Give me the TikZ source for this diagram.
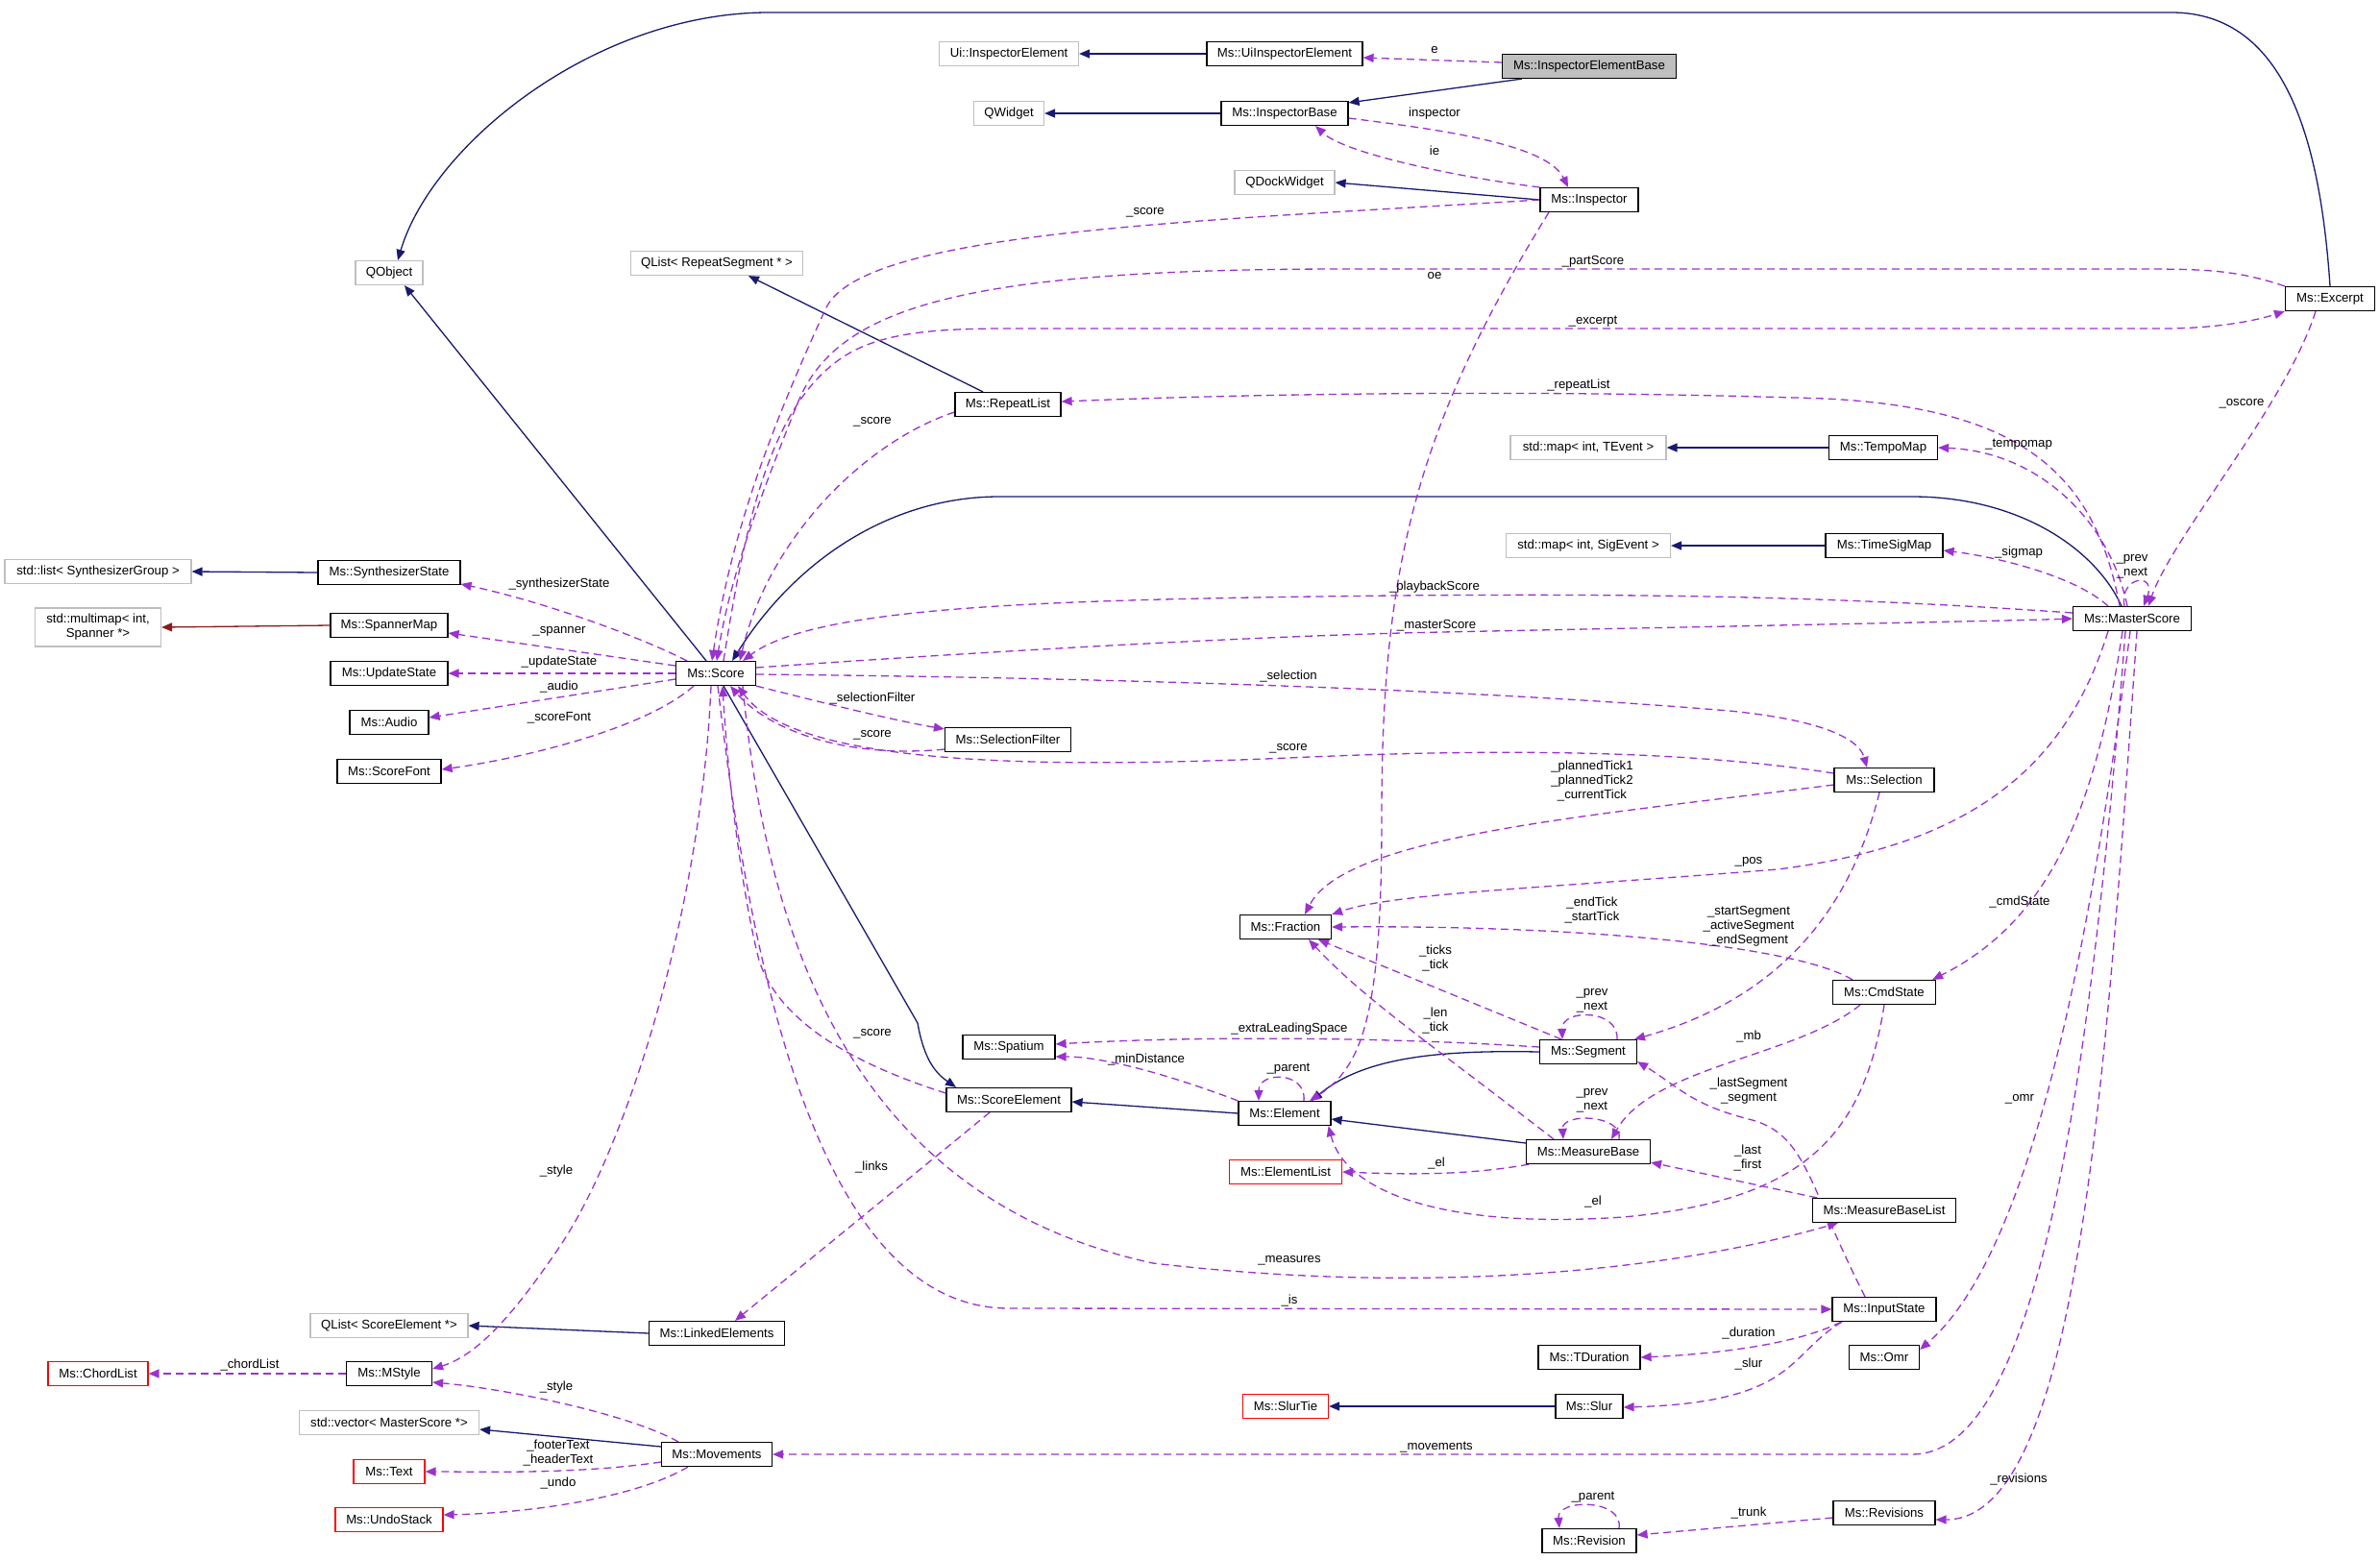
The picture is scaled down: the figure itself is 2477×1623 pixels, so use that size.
\documentclass[tikz,border=0pt]{standalone}
\usepackage{fontspec}
\setmainfont{Liberation Sans}
\usetikzlibrary{arrows.meta}
\definecolor{navy}{HTML}{191970}
\definecolor{usec}{HTML}{9A32CD}
\definecolor{tmplc}{HTML}{8B1A1A}
\definecolor{grayb}{HTML}{BFBFBF}
\pgfdeclarelayer{bg}
\pgfsetlayers{bg,main}
\begin{document}
\begin{tikzpicture}[x=1pt,y=-1pt,
  cls/.style={draw=black, line width=1.2pt, fill=white, minimum height=25pt, inner sep=0pt, font=\fontsize{13.2}{15}\selectfont, text=black},
  ext/.style={cls, draw=grayb},
  redc/.style={cls, draw=red},
  lbl/.style={font=\fontsize{13.2}{15}\selectfont, inner sep=0pt, align=center, text=black},
  inh/.style={draw=navy, line width=1.3pt, -{Triangle[length=11pt,width=9pt]}},
  tmpl/.style={draw=tmplc, line width=1.3pt, -{Triangle[length=11pt,width=9pt]}},
  usage/.style={draw=usec, line width=1.3pt, dash pattern=on 8pt off 5pt, -{Triangle[length=11pt,width=9pt]}}
]
\useasboundingbox (0,0) rectangle (2477,1623);

% nodes
\node[cls, fill=grayb, minimum width=181pt] (ieb) at (1654,69) {Ms::InspectorElementBase};
\node[cls, minimum width=162pt] (uie) at (1337,56) {Ms::UiInspectorElement};
\node[ext, minimum width=145pt] (uiie) at (1050,56) {Ui::InspectorElement};
\node[cls, minimum width=132pt] (ibase) at (1337,118) {Ms::InspectorBase};
\node[ext, minimum width=73pt] (qwidget) at (1050,118) {QWidget};
\node[cls, minimum width=102pt] (insp) at (1654,208) {Ms::Inspector};
\node[ext, minimum width=104pt] (qdock) at (1337,190) {QDockWidget};
\node[cls, minimum width=93pt] (excerpt) at (2425,311) {Ms::Excerpt};
\node[ext, minimum width=70pt] (qobject) at (405,284) {QObject};
\node[ext, minimum width=179pt] (qlistrs) at (746,274) {QList< RepeatSegment * >};
\node[cls, minimum width=110pt] (repeat) at (1049,421) {Ms::RepeatList};
\node[cls, minimum width=148pt] (synth) at (405,596) {Ms::SynthesizerState};
\node[ext, minimum width=194pt] (stdlist) at (102,595) {std::list< SynthesizerGroup >};
\node[cls, minimum width=122pt] (spanner) at (405,651) {Ms::SpannerMap};
\node[ext, minimum width=131pt, minimum height=40pt, align=center] (multimap) at (102,653) {std::multimap< int,\\Spanner *>};
\node[cls, minimum width=122pt] (update) at (405,701) {Ms::UpdateState};
\node[cls, minimum width=82pt] (audio) at (405,752) {Ms::Audio};
\node[cls, minimum width=108pt] (scorefont) at (405,803) {Ms::ScoreFont};
\node[cls, minimum width=83pt] (score) at (745,701) {Ms::Score};
\node[cls, minimum width=131pt] (selfilter) at (1049,770) {Ms::SelectionFilter};
\node[ext, minimum width=162pt] (tmapT) at (1653,466) {std::map< int, TEvent >};
\node[cls, minimum width=113pt] (tempomap) at (1960,466) {Ms::TempoMap};
\node[ext, minimum width=171pt] (tmapS) at (1653,568) {std::map< int, SigEvent >};
\node[cls, minimum width=122pt] (timesig) at (1961,568) {Ms::TimeSigMap};
\node[cls, minimum width=123pt] (master) at (2219,644) {Ms::MasterScore};
\node[cls, minimum width=104pt] (selection) at (1961,812) {Ms::Selection};
\node[cls, minimum width=95pt] (fraction) at (1338,965) {Ms::Fraction};
\node[cls, minimum width=107pt] (cmdstate) at (1961,1033) {Ms::CmdState};
\node[cls, minimum width=96pt] (spatium) at (1050,1090) {Ms::Spatium};
\node[cls, minimum width=101pt] (segment) at (1653,1095) {Ms::Segment};
\node[cls, minimum width=130pt] (scoreel) at (1050,1145) {Ms::ScoreElement};
\node[cls, minimum width=96pt] (element) at (1337,1159) {Ms::Element};
\node[cls, minimum width=129pt] (measurebase) at (1653,1199) {Ms::MeasureBase};
\node[redc, minimum width=117pt] (elemlist) at (1338,1220) {Ms::ElementList};
\node[cls, minimum width=149pt] (mblist) at (1961,1260) {Ms::MeasureBaseList};
\node[cls, minimum width=108pt] (inputstate) at (1961,1363) {Ms::InputState};
\node[cls, minimum width=106pt] (tduration) at (1654,1413) {Ms::TDuration};
\node[cls, minimum width=73pt] (omr) at (1961,1413) {Ms::Omr};
\node[redc, minimum width=89pt] (slurtie) at (1338,1464) {Ms::SlurTie};
\node[cls, minimum width=70pt] (slur) at (1654,1464) {Ms::Slur};
\node[cls, minimum width=106pt] (revisions) at (1961,1575) {Ms::Revisions};
\node[cls, minimum width=98pt] (revision) at (1654,1604) {Ms::Revision};
\node[ext, minimum width=164pt] (qlistse) at (405,1380) {QList< ScoreElement *>};
\node[cls, minimum width=141pt] (linked) at (746,1388) {Ms::LinkedElements};
\node[redc, minimum width=104pt] (chordlist) at (102,1430) {Ms::ChordList};
\node[cls, minimum width=89pt] (mstyle) at (405,1430) {Ms::MStyle};
\node[ext, minimum width=187pt] (stdvector) at (405,1481) {std::vector< MasterScore *>};
\node[cls, minimum width=115pt] (movements) at (746,1514) {Ms::Movements};
\node[redc, minimum width=74pt] (text) at (405,1532) {Ms::Text};
\node[redc, minimum width=112pt] (undostack) at (405,1582) {Ms::UndoStack};

% labels
\node[lbl] (l1) at (1493,52) {e};
\node[lbl] (l2) at (1493,118) {inspector};
\node[lbl] (l3) at (1493,157) {ie};
\node[lbl] (l4) at (1192,221) {\_score};
\node[lbl] (l5) at (1493,287) {oe};
\node[lbl] (l6) at (1658,272) {\_partScore};
\node[lbl] (l7) at (1658,335) {\_excerpt};
\node[lbl] (l8) at (908,439) {\_score};
\node[lbl] (l9) at (1493,611) {\_playbackScore};
\node[lbl] (l10) at (1495,651) {\_masterScore};
\node[lbl] (l11) at (1341,704) {\_selection};
\node[lbl] (l12) at (1341,779) {\_score};
\node[lbl] (l13) at (908,727) {\_selectionFilter};
\node[lbl] (l14) at (908,765) {\_score};
\node[lbl] (l15) at (582,608) {\_synthesizerState};
\node[lbl] (l16) at (582,657) {\_spanner};
\node[lbl] (l17) at (582,689) {\_updateState};
\node[lbl] (l18) at (582,715) {\_audio};
\node[lbl] (l19) at (582,747) {\_scoreFont};
\node[lbl] (l20) at (1643,401) {\_repeatList};
\node[lbl] (l21) at (2101,463) {\_tempomap};
\node[lbl] (l22) at (2101,575) {\_sigmap};
\node[lbl] (l23) at (2219,590) {\_prev\\\_next};
\node[lbl] (l24) at (2333,420) {\_oscore};
\node[lbl] (l25) at (1820,897) {\_pos};
\node[lbl] (l26) at (1657,813) {\_plannedTick1\\\_plannedTick2\\\_currentTick};
\node[lbl] (l27) at (1657,948) {\_endTick\\\_startTick};
\node[lbl] (l28) at (1820,964) {\_startSegment\\\_activeSegment\\\_endSegment};
\node[lbl] (l29) at (2102,939) {\_cmdState};
\node[lbl] (l30) at (1494,998) {\_ticks\\\_tick};
\node[lbl] (l31) at (1657,1042) {\_prev\\\_next};
\node[lbl] (l32) at (1342,1071) {\_extraLeadingSpace};
\node[lbl] (l33) at (1494,1063) {\_len\\\_tick};
\node[lbl] (l34) at (1193,1103) {\_minDistance};
\node[lbl] (l35) at (1341,1113) {\_parent};
\node[lbl] (l36) at (908,1076) {\_score};
\node[lbl] (l37) at (907,1215) {\_links};
\node[lbl] (l38) at (1657,1146) {\_prev\\\_next};
\node[lbl] (l39) at (1820,1079) {\_mb};
\node[lbl] (l40) at (1820,1136) {\_lastSegment\\\_segment};
\node[lbl] (l41) at (1819,1206) {\_last\\\_first};
\node[lbl] (l42) at (1495,1211) {\_el};
\node[lbl] (l43) at (1658,1251) {\_el};
\node[lbl] (l44) at (1342,1312) {\_measures};
\node[lbl] (l45) at (1342,1354) {\_is};
\node[lbl] (l46) at (579,1219) {\_style};
\node[lbl] (l47) at (1820,1388) {\_duration};
\node[lbl] (l48) at (1820,1420) {\_slur};
\node[lbl] (l49) at (2102,1144) {\_omr};
\node[lbl] (l50) at (1495,1507) {\_movements};
\node[lbl] (l51) at (2101,1540) {\_revisions};
\node[lbl] (l52) at (1820,1575) {\_trunk};
\node[lbl] (l53) at (1658,1559) {\_parent};
\node[lbl] (l54) at (260,1421) {\_chordList};
\node[lbl] (l55) at (579,1444) {\_style};
\node[lbl] (l56) at (581,1513) {\_footerText\\\_headerText};
\node[lbl] (l57) at (581,1544) {\_undo};

\begin{pgfonlayer}{bg}
% inheritance
\draw[inh] (uie.west) -- (uiie.east);
\draw[inh] ([xshift=21pt]ieb.south west) -- ([yshift=-2pt]ibase.north east);
\draw[inh] (ibase.west) -- (qwidget.east);
\draw[inh] (insp.west) -- (qdock.east);
\draw[inh] (excerpt.north) .. controls (2415,150) and (2380,13) .. (2260,13) -- (800,13) .. controls (620,13) and (450,150) .. ([xshift=9pt]qobject.north);
\draw[inh] ([xshift=-10pt]score.north) -- ([xshift=16pt]qobject.south);
\draw[inh] ([xshift=-26pt]repeat.north) -- ([xshift=33pt]qlistrs.south);
\draw[inh] ([xshift=-11pt]master.north) .. controls (2180,570) and (2100,517) .. (1990,517) -- (1040,517) .. controls (930,517) and (830,580) .. ([xshift=17pt]score.north);
\draw[inh] (tempomap.west) -- (tmapT.east);
\draw[inh] (timesig.west) -- (tmapS.east);
\draw[inh] (synth.west) -- (stdlist.east);
\draw[inh] ([xshift=8pt]score.south) -- (955,1065) .. controls (962,1105) and (975,1118) .. ([xshift=-55pt]scoreel.north);
\draw[inh] (element.west) -- ([yshift=-2pt]scoreel.east);
\draw[inh] (segment.west) .. controls (1500,1093) and (1420,1100) .. ([xshift=28pt]element.north);
\draw[inh] ([yshift=9pt]measurebase.west) -- ([yshift=-6pt]element.east);
\draw[inh] (linked.west) -- (qlistse.east);
\draw[inh] ([yshift=8pt]movements.west) -- ([yshift=-7pt]stdvector.east);
\draw[inh] (slur.west) -- (slurtie.east);
\draw[tmpl] (spanner.west) -- (multimap.east);

% usage
\draw[usage] ([yshift=4pt]ieb.west) -- ([yshift=-4pt]uie.east);
\draw[usage] ([yshift=-5pt]ibase.east) .. controls (1500,135) and (1610,150) .. ([xshift=-22pt]insp.north);
\draw[usage] (insp.north west) .. controls (1520,185) and (1400,160) .. ([xshift=32pt]ibase.south);
\draw[usage] (insp.west) .. controls (1250,230) and (900,240) .. (860,320) .. controls (800,450) and (760,560) .. ([xshift=-4pt]score.north);
\draw[usage] ([xshift=-42pt]insp.south) .. controls (1470,450) and (1438,600) .. (1438,850) .. controls (1438,1050) and (1420,1110) .. ([xshift=26pt]element.north);
\draw[usage] (excerpt.north west) .. controls (2330,282) and (2300,280) .. (2230,280) -- (1400,280) .. controls (1000,280) and (870,320) .. (830,420) .. controls (790,520) and (760,600) .. ([xshift=1pt]score.north);
\draw[usage] ([xshift=8pt]score.north) .. controls (775,550) and (800,420) .. (880,370) .. controls (920,345) and (980,342) .. (1050,342) -- (2250,342) .. controls (2310,342) and (2350,333) .. (excerpt.south west);
\draw[usage] ([yshift=-8pt]repeat.west) .. controls (900,460) and (800,560) .. ([xshift=25pt]score.north);
\draw[usage] ([yshift=6pt]master.west) .. controls (1900,620) and (1700,618) .. (1450,620) .. controls (1100,624) and (850,630) .. ([xshift=-14pt]score.north east);
\draw[usage] ([yshift=6pt]score.east) .. controls (1000,680) and (1300,662) .. (1500,658) .. controls (1900,650) and (2100,646) .. (master.west);
\draw[usage] ([yshift=-1pt]score.east) .. controls (1100,705) and (1500,715) .. (1800,740) .. controls (1900,750) and (1935,770) .. ([xshift=-18pt]selection.north);
\draw[usage] ([yshift=7pt]selection.west) .. controls (1750,780) and (1550,780) .. (1363,788) .. controls (1100,800) and (830,800) .. ([xshift=23pt]score.south);
\draw[usage] (score.south east) .. controls (850,730) and (930,750) .. ([yshift=-2pt]selfilter.north west);
\draw[usage] ([yshift=-10pt]selfilter.west) .. controls (880,790) and (800,760) .. ([xshift=15pt]score.south);
\draw[usage] ([xshift=-30pt]score.north) .. controls (660,660) and (560,625) .. ([yshift=-12pt]synth.east);
\draw[usage] ([yshift=8pt]score.west) -- ([yshift=-8pt]spanner.east);
\draw[usage] (score.west) -- (update.east);
\draw[usage] ([yshift=-6pt]score.west) -- ([yshift=5pt]audio.east);
\draw[usage] ([xshift=-23pt]score.south) .. controls (670,760) and (540,790) .. ([yshift=2pt]scorefont.east);
\draw[usage] ([xshift=-13pt]master.north) .. controls (2180,490) and (2100,425) .. (1900,415) .. controls (1600,405) and (1300,410) .. ([yshift=3pt]repeat.east);
\draw[usage] ([xshift=-5pt]master.north) .. controls (2195,540) and (2120,470) .. (tempomap.east);
\draw[usage] ([xshift=-25pt]master.north) .. controls (2160,600) and (2080,580) .. ([yshift=-5pt]timesig.east);
\draw[usage] ([xshift=-8pt]master.north) .. controls (2205,600) and (2245,595) .. ([xshift=12pt]master.north);
\draw[usage] ([xshift=-15pt]excerpt.south) .. controls (2380,420) and (2260,560) .. ([xshift=17pt]master.north);
\draw[usage] ([xshift=-25pt]master.south) .. controls (2150,800) and (2050,880) .. (1850,905) .. controls (1600,925) and (1450,930) .. (fraction.north east);
\draw[usage] ([yshift=-5pt]selection.west) .. controls (1650,850) and (1400,870) .. ([xshift=20pt]fraction.north);
\draw[usage] ([xshift=-33pt]cmdstate.north) .. controls (1870,985) and (1650,963) .. (fraction.east);
\draw[usage] ([xshift=-5pt]selection.south) .. controls (1925,950) and (1850,1040) .. ([xshift=48pt]segment.north);
\draw[usage] ([xshift=-10pt]master.south) .. controls (2180,850) and (2130,960) .. ([xshift=-4pt]cmdstate.north east);
\draw[usage] ([xshift=-28pt]segment.north) -- ([xshift=34pt]fraction.south);
\draw[usage] ([xshift=30pt]segment.north) .. controls (1685,1050) and (1625,1050) .. ([xshift=-27pt]segment.north);
\draw[usage] ([yshift=5pt]segment.west) .. controls (1450,1080) and (1250,1078) .. ([yshift=3pt]spatium.east);
\draw[usage] ([xshift=-36pt]measurebase.north) .. controls (1480,1080) and (1420,1040) .. ([xshift=24pt]fraction.south);
\draw[usage] (element.north west) .. controls (1220,1120) and (1150,1100) .. ([yshift=-10pt]spatium.east);
\draw[usage] ([xshift=20pt]element.north) .. controls (1360,1115) and (1310,1115) .. ([xshift=-27pt]element.north);
\draw[usage] ([yshift=7pt]scoreel.west) .. controls (880,1105) and (810,1060) .. (790,1000) .. controls (770,920) and (757,800) .. ([xshift=7pt]score.south);
\draw[usage] ([xshift=-20pt]scoreel.south) -- ([xshift=19pt]linked.north);
\draw[usage] ([xshift=32pt]measurebase.north) .. controls (1690,1160) and (1625,1158) .. ([xshift=-26pt]measurebase.north);
\draw[usage] ([xshift=-25pt]cmdstate.south) .. controls (1870,1100) and (1720,1110) .. ([xshift=24pt]measurebase.north);
\draw[usage] ([xshift=-20pt]inputstate.north) .. controls (1880,1230) and (1880,1180) .. (1820,1165) .. controls (1760,1150) and (1745,1130) .. ([yshift=3pt]segment.south east);
\draw[usage] ([xshift=-70pt]mblist.north) -- ([yshift=2pt]measurebase.south east);
\draw[usage] ([xshift=-62pt]measurebase.south) .. controls (1520,1225) and (1450,1222) .. (elemlist.east);
\draw[usage] (cmdstate.south) .. controls (1940,1180) and (1880,1250) .. (1689,1267) .. controls (1500,1280) and (1400,1240) .. ([xshift=-3pt]element.south east);
\draw[usage] ([xshift=28pt]score.south) .. controls (800,1000) and (900,1250) .. (1200,1315) .. controls (1500,1350) and (1750,1320) .. ([xshift=-48pt]mblist.south);
\draw[usage] ([xshift=2pt]score.south) .. controls (780,1000) and (850,1362) .. (1050,1362) -- (inputstate.west);
\draw[usage] ([xshift=-5pt]score.south) .. controls (730,950) and (650,1200) .. (581,1300) .. controls (540,1360) and (500,1410) .. ([yshift=5pt]mstyle.east);
\draw[usage] ([xshift=-45pt]inputstate.south) .. controls (1870,1400) and (1780,1410) .. (tduration.east);
\draw[usage] ([xshift=-44pt]inputstate.south) .. controls (1860,1410) and (1870,1460) .. ([yshift=-1pt]slur.east);
\draw[usage] ([xshift=-2pt]master.south) .. controls (2180,950) and (2120,1300) .. ([yshift=8pt]omr.east);
\draw[usage] ([xshift=-7pt]master.south) .. controls (2170,1200) and (2110,1514) .. (1990,1514) -- (movements.east);
\draw[usage] ([xshift=5pt]master.south) .. controls (2190,1150) and (2160,1582) .. ([yshift=-7pt]revisions.east);
\draw[usage] ([yshift=-5pt]revisions.west) -- ([yshift=6pt]revision.east);
\draw[usage] ([xshift=31pt]revision.north) .. controls (1690,1560) and (1620,1560) .. ([xshift=-31pt]revision.north);
\draw[usage] (mstyle.west) -- (chordlist.east);
\draw[usage] ([xshift=-40pt]movements.north) .. controls (650,1470) and (520,1445) .. ([yshift=-9pt]mstyle.east);
\draw[usage] ([yshift=-8pt]movements.west) .. controls (600,1535) and (500,1532) .. (text.east);
\draw[usage] ([xshift=-30pt]movements.south) .. controls (660,1560) and (550,1575) .. ([yshift=5pt]undostack.east);
\end{pgfonlayer}
\end{tikzpicture}
\end{document}
